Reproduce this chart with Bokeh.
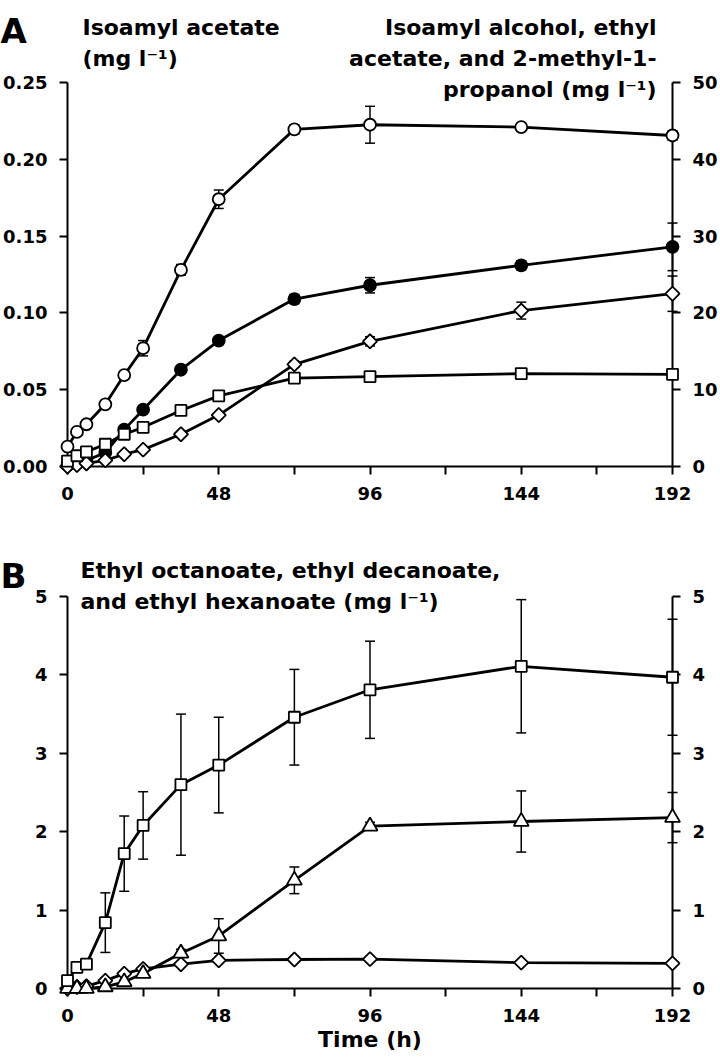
from bokeh.plotting import figure
from bokeh.models import Range1d, LinearAxis, FixedTicker, PrintfTickFormatter
from bokeh.core.properties import value
from bokeh.layouts import column
from bokeh.embed import file_html
from bokeh.resources import INLINE

# ---------------- data ----------------
time_h = [0, 3, 6, 12, 18, 24, 36, 48, 72, 96, 144, 192]
x_ticks = [0, 24, 48, 72, 96, 120, 144, 168, 192]
x_tick_labels = {0: "0", 24: "", 48: "48", 72: "", 96: "96", 120: "", 144: "144", 168: "", 192: "192"}

# Panel A  (left axis: isoamyl acetate, mg/l ; right axis: others, mg/l)
isoamyl_acetate = [0.001, 0.002, 0.004, 0.009, 0.024, 0.037, 0.063, 0.082, 0.109, 0.118, 0.131, 0.143]
isoamyl_acetate_sd = [0.001, 0.001, 0.001, 0.001, 0.001, 0.002, 0.002, 0.002, 0.003, 0.005, 0.003, 0.0155]
isoamyl_alcohol = [2.6, 4.5, 5.5, 8.1, 11.9, 15.4, 25.6, 34.8, 43.9, 44.5, 44.2, 43.1]
isoamyl_alcohol_sd = [0.2, 0.2, 0.2, 0.3, 0.3, 1.0, 0.7, 1.2, 0.6, 2.4, 0.4, 0.6]
ethyl_acetate = [0.0, 0.2, 0.4, 0.8, 1.6, 2.2, 4.2, 6.7, 13.3, 16.3, 20.3, 22.5]
ethyl_acetate_sd = [0.0, 0.0, 0.0, 0.1, 0.1, 0.1, 0.2, 0.3, 0.4, 0.6, 1.1, 2.3]
methyl_propanol = [0.7, 1.4, 1.9, 2.9, 4.2, 5.1, 7.3, 9.2, 11.5, 11.7, 12.1, 12.0]
methyl_propanol_sd = [0.1, 0.1, 0.1, 0.1, 0.1, 0.2, 0.2, 0.2, 0.2, 0.2, 0.2, 0.2]
a_left_ticks = [0, 0.05, 0.1, 0.15, 0.2, 0.25]
a_right_ticks = [0, 10, 20, 30, 40, 50]

# Panel B (mg/l)
ethyl_octanoate = [0.10, 0.27, 0.31, 0.84, 1.72, 2.08, 2.60, 2.85, 3.46, 3.81, 4.11, 3.97]
ethyl_octanoate_sd = [0.02, 0.03, 0.03, 0.38, 0.48, 0.43, 0.90, 0.61, 0.61, 0.62, 0.85, 0.74]
ethyl_decanoate = [0.0, 0.0, 0.0, 0.02, 0.085, 0.19, 0.45, 0.67, 1.38, 2.07, 2.13, 2.18]
ethyl_decanoate_sd = [0.0, 0.0, 0.0, 0.01, 0.02, 0.03, 0.05, 0.22, 0.17, 0.05, 0.39, 0.32]
ethyl_hexanoate = [0.0, 0.02, 0.03, 0.10, 0.19, 0.25, 0.31, 0.36, 0.37, 0.375, 0.33, 0.32]
ethyl_hexanoate_sd = [0.0, 0.0, 0.0, 0.01, 0.01, 0.02, 0.02, 0.02, 0.02, 0.02, 0.02, 0.02]
b_ticks = [0, 1, 2, 3, 4, 5]

FONT = "DejaVu Sans"
W = 720
BORDER_L, BORDER_R = 67, 47
X_LEFT, X_RIGHT = BORDER_L, W - BORDER_R


def style_axis(ax, standoff):
    ax.axis_line_width = 2
    ax.axis_line_color = "black"
    ax.major_tick_line_width = 2
    ax.major_tick_line_color = "black"
    ax.major_tick_out = 8
    ax.major_tick_in = 0
    ax.minor_tick_line_color = None
    ax.major_label_text_font = FONT
    ax.major_label_text_font_style = "bold"
    ax.major_label_text_font_size = "18px"
    ax.major_label_text_color = "black"
    ax.major_label_standoff = standoff


def make_fig(height, top, bottom, ymax, rmax, lticks, rticks, lfmt):
    p = figure(width=W, height=height, x_range=Range1d(0, 192), y_range=Range1d(0, ymax),
               toolbar_location=None, output_backend="svg", title=None,
               min_border_left=BORDER_L, min_border_right=BORDER_R,
               min_border_top=top, min_border_bottom=bottom)
    p.outline_line_color = None
    p.grid.visible = False
    p.extra_y_ranges = {"right": Range1d(0, rmax)}
    p.xaxis.ticker = FixedTicker(ticks=x_ticks)
    p.xaxis.major_label_overrides = x_tick_labels
    p.yaxis.ticker = FixedTicker(ticks=lticks)
    if lfmt:
        p.yaxis.formatter = PrintfTickFormatter(format=lfmt)
    style_axis(p.xaxis[0], 12)
    style_axis(p.yaxis[0], 12)
    r_ax = LinearAxis(y_range_name="right", ticker=FixedTicker(ticks=rticks))
    style_axis(r_ax, 12)
    p.add_layout(r_ax, "right")
    return p


def add_errorbars(p, y, sd, rname="default"):
    lo = [v - e for v, e in zip(y, sd)]
    hi = [v + e for v, e in zip(y, sd)]
    p.segment(time_h, lo, time_h, hi, line_color="black", line_width=1.5,
              y_range_name=rname, level="overlay")
    for ends in (lo, hi):
        p.scatter(time_h, ends, marker="dash", size=10, line_color="black", line_width=1.5,
                  y_range_name=rname, level="overlay")


def add_line(p, y, rname="default"):
    p.line(time_h, y, line_color="black", line_width=2.8, y_range_name=rname, level="overlay")


def add_marker(p, y, marker, size, fill, rname="default", angle=0.0):
    p.scatter(time_h, y, marker=marker, size=size, fill_color=fill, line_color="black",
              line_width=1.8, angle=angle, y_range_name=rname, level="overlay")


def add_text(p, txt, px, py, frame, ymax, size="22px", align="left"):
    # px, py: position in picture pixels; converted to data units of the panel
    L, R, T, B = frame
    x = (px - L) / (R - L) * 192
    y = (B - py) / (B - T) * ymax
    p.text(x=[x], y=[y], text=[txt], text_font=value(FONT), text_font_style="bold",
           text_font_size=size, text_color="black", text_align=align,
           text_baseline="alphabetic", level="overlay")


# ---------------- Panel A ----------------
HA = 528
A_TOP, A_BOTTOM = 82, 466
pa = make_fig(HA, A_TOP, HA - A_BOTTOM, 0.25, 50, a_left_ticks, a_right_ticks, "%.2f")
add_errorbars(pa, isoamyl_acetate, isoamyl_acetate_sd)
add_errorbars(pa, isoamyl_alcohol, isoamyl_alcohol_sd, "right")
add_errorbars(pa, ethyl_acetate, ethyl_acetate_sd, "right")
add_errorbars(pa, methyl_propanol, methyl_propanol_sd, "right")
add_line(pa, isoamyl_acetate)
add_line(pa, isoamyl_alcohol, "right")
add_line(pa, ethyl_acetate, "right")
add_line(pa, methyl_propanol, "right")
add_marker(pa, isoamyl_acetate, "circle", 12, "black")
add_marker(pa, ethyl_acetate, "square", 10, "white", "right", angle=0.7853981634)
add_marker(pa, methyl_propanol, "square", 11, "white", "right")
add_marker(pa, isoamyl_alcohol, "circle", 12, "white", "right")

fa = (X_LEFT, X_RIGHT, A_TOP, A_BOTTOM)
add_text(pa, "A", 0, 30, fa, 0.25, size="34px")
add_text(pa, "Isoamyl acetate", 82, 27, fa, 0.25)
add_text(pa, "(mg l\u207b\u00b9)", 82, 58, fa, 0.25)
add_text(pa, "Isoamyl alcohol, ethyl", 657, 27, fa, 0.25, align="right")
add_text(pa, "acetate, and 2-methyl-1-", 657, 58, fa, 0.25, align="right")
add_text(pa, "propanol (mg l\u207b\u00b9)", 657, 89, fa, 0.25, align="right")

# ---------------- Panel B ----------------
HB = 530
B_TOP, B_BOTTOM = 68, 460          # inside panel B figure
pb = make_fig(HB, B_TOP, HB - B_BOTTOM, 5, 5, b_ticks, b_ticks, None)
pb.xaxis.axis_label = "Time (h)"
pb.xaxis.axis_label_text_font = FONT
pb.xaxis.axis_label_text_font_style = "bold"
pb.xaxis.axis_label_text_font_size = "22px"
pb.xaxis.axis_label_text_color = "black"
pb.xaxis.axis_label_standoff = 2
add_errorbars(pb, ethyl_octanoate, ethyl_octanoate_sd)
add_errorbars(pb, ethyl_decanoate, ethyl_decanoate_sd)
add_errorbars(pb, ethyl_hexanoate, ethyl_hexanoate_sd)
add_line(pb, ethyl_hexanoate)
add_line(pb, ethyl_decanoate)
add_line(pb, ethyl_octanoate)
add_marker(pb, ethyl_hexanoate, "square", 10, "white", angle=0.7853981634)
add_marker(pb, ethyl_decanoate, "triangle", 15, "white")
add_marker(pb, ethyl_octanoate, "square", 11, "white")

fb = (X_LEFT, X_RIGHT, B_TOP, B_BOTTOM)
add_text(pb, "B", 0, 47, fb, 5, size="34px")
add_text(pb, "Ethyl octanoate, ethyl decanoate,", 80, 42, fb, 5)
add_text(pb, "and ethyl hexanoate (mg l\u207b\u00b9)", 80, 73, fb, 5)

layout = column(pa, pb)
open("out.html", "w").write(file_html(layout, INLINE))
